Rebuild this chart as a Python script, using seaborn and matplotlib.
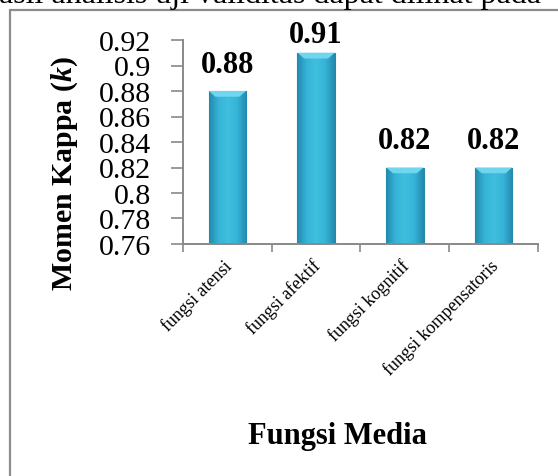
import matplotlib
matplotlib.use("Agg")
import matplotlib.pyplot as plt
from matplotlib.lines import Line2D
from matplotlib.colors import LinearSegmentedColormap
from matplotlib.transforms import ScaledTranslation
import numpy as np
import pandas as pd
import seaborn as sns

# Kappa moment per media function
categories = ["fungsi atensi", "fungsi afektif", "fungsi kognitif", "fungsi kompensatoris"]
kappa = [0.88, 0.91, 0.82, 0.82]
y_ticks = [0.76, 0.78, 0.80, 0.82, 0.84, 0.86, 0.88, 0.90, 0.92]
y_tick_labels = ["0.76", "0.78", "0.8", "0.82", "0.84", "0.86", "0.88", "0.9", "0.92"]

sns.set_theme(style="white", rc={"text.color": "black", "axes.labelcolor": "black",
                                 "xtick.color": "black", "ytick.color": "black"})
plt.rcParams["font.family"] = ["Liberation Serif", "DejaVu Serif"]
plt.rcParams["mathtext.fontset"] = "custom"
plt.rcParams["mathtext.rm"] = "Liberation Serif"
plt.rcParams["mathtext.bf"] = "Liberation Serif:bold"
plt.rcParams["mathtext.it"] = "Liberation Serif:italic"
plt.rcParams["mathtext.bfit"] = "Liberation Serif:italic:bold"

W, H = 558, 477
fig = plt.figure(figsize=(W / 100, H / 100), dpi=100)
ax = fig.add_axes([183 / W, 1 - 245 / H, (538 - 183) / W, (245 - 41) / H])

df = pd.DataFrame({"fungsi": categories, "kappa": kappa})
sns.barplot(data=df, x="fungsi", y="kappa", ax=ax, color="#33B2D6",
            width=0.42, edgecolor="#2588AA", linewidth=0.8, saturation=1)

y_min, y_max = 0.76, 0.92
ax.set_ylim(y_min, y_max)
ax.set_xlim(-0.5, len(categories) - 0.5)

# shaded cylinder-like fill and a light bevel on the top of each bar
shade = LinearSegmentedColormap.from_list(
    "bar_shade", ["#2389AC", "#36B4D8", "#3FBEDD", "#36B4D8", "#2389AC"])
grad = np.linspace(0, 1, 64).reshape(1, -1)
for patch in list(ax.patches):
    x0 = patch.get_x()
    w = patch.get_width()
    top = patch.get_y() + patch.get_height()
    im = ax.imshow(grad, cmap=shade, aspect="auto", extent=[x0, x0 + w, y_min, top],
                   zorder=patch.get_zorder() + 0.05, interpolation="bilinear")
    im.set_clip_path(patch)
    bevel = 0.0045
    ax.fill([x0, x0 + w, x0 + w * 0.82, x0 + w * 0.18],
            [top, top, top - bevel, top - bevel],
            color="#6FD6F0", linewidth=0, zorder=patch.get_zorder() + 0.1)
ax.set_xlim(-0.5, len(categories) - 0.5)
ax.set_ylim(y_min, y_max)

ax.set_yticks(y_ticks)
ax.set_yticklabels(y_tick_labels, fontsize=21.5)
ax.tick_params(axis="y", direction="out", length=9, width=1.2, color="#898989",
               pad=14, left=True)

ax.set_xticks(range(len(categories)))
ax.set_xticklabels(categories, rotation=45, ha="right", rotation_mode="anchor",
                   fontsize=13)
ax.set_xticks(np.arange(-0.5, len(categories), 1.0), minor=True)
ax.tick_params(axis="x", which="major", length=0, pad=9)
ax.tick_params(axis="x", which="minor", direction="out", length=6, width=1.2,
               color="#898989", bottom=True)
for lab in ax.get_xticklabels():
    lab.set_transform(lab.get_transform() + ScaledTranslation(-3 / 72, 0, fig.dpi_scale_trans))

for side in ["top", "right"]:
    ax.spines[side].set_visible(False)
for side in ["left", "bottom"]:
    ax.spines[side].set_color("#898989")
    ax.spines[side].set_linewidth(1.4)

# value labels above bars
for i, v in enumerate(kappa):
    ax.text(i, min(v + 0.0152, 0.9184), f"{v:.2f}", ha="center", va="baseline",
            fontsize=22, fontweight="bold", clip_on=False)

ax.set_ylabel(r"Momen Kappa ($\mathbfit{k}$)", fontsize=21.5, fontweight="bold")
ax.yaxis.set_label_coords(-0.29, 0.348)
ax.set_xlabel("Fungsi Media", fontsize=22, fontweight="bold")
ax.xaxis.set_label_coords(0.434, -0.868)

# surrounding chart frame and the document line above it
fig.add_artist(Line2D([10 / W, 10 / W], [0, 1 - 11 / H], color="#8C8C8C", linewidth=1.6))
fig.add_artist(Line2D([10 / W, 1], [1 - 11 / H, 1 - 11 / H], color="#8C8C8C", linewidth=1.6))
fig.text(-17 / W, 1 - 3 / H, "hasil analisis uji validitas dapat dilihat pada",
         fontsize=23, ha="left", va="baseline")

fig.savefig("out.png", dpi=100)
